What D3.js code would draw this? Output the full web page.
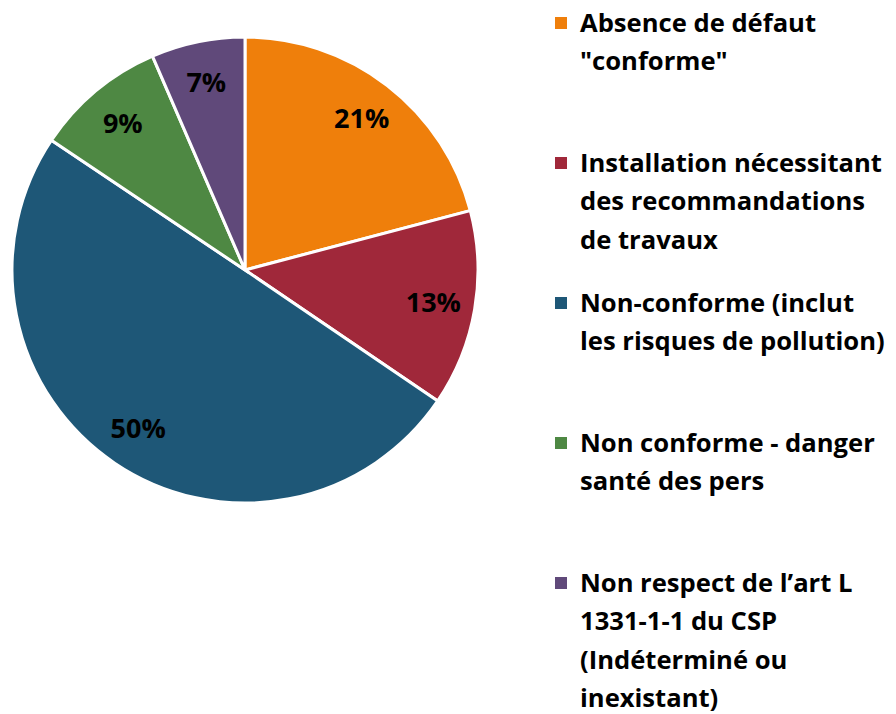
<!DOCTYPE html>
<html>
<head>
<meta charset="utf-8">
<script src="https://cdn.jsdelivr.net/npm/d3@7"></script>
<style>
  body { margin: 0; background: #fff; }
  #chart { width: 896px; height: 714px; }
  text { font-family: "Open Sans", Lato, sans-serif; font-weight: bold; fill: #000; }
</style>
</head>
<body>
<div id="chart"></div>
<script>
// Categories (legend text, one array of lines per entry)
var categories = [
    ["Absence de défaut", "\"conforme\""],
    ["Installation nécessitant", "des recommandations", "de travaux"],
    ["Non-conforme (inclut", "les risques de pollution)"],
    ["Non conforme - danger", "santé des pers"],
    ["Non respect de l\u2019art L", "1331-1-1 du CSP", "(Indéterminé ou", "inexistant)"]
];
// Share of each category, percent
var values = [20.9, 13.6, 49.9, 9.1, 6.5];
var labels = ["21%", "13%", "50%", "9%", "7%"];
var colors = ["#EF7F0B", "#A0283A", "#1E5777", "#4E8843", "#60497A"];

var width = 896, height = 714;
var svg = d3.select("#chart").append("svg")
    .attr("width", width)
    .attr("height", height);

// Pie
var cx = 245, cy = 270, radius = 233;
var pie = d3.pie().sort(null).value(function(d) { return d; });
var arc = d3.arc().innerRadius(0).outerRadius(radius);
var labelArc = d3.arc().innerRadius(radius * 0.82).outerRadius(radius * 0.82);

var pieGroup = svg.append("g")
    .attr("transform", "translate(" + cx + "," + cy + ")");

var slices = pieGroup.selectAll(".slice")
    .data(pie(values))
    .enter().append("g")
    .attr("class", "slice");

slices.append("path")
    .attr("d", arc)
    .attr("fill", function(d, i) { return colors[i]; })
    .attr("stroke", "#fff")
    .attr("stroke-width", 3);

slices.append("text")
    .attr("transform", function(d) { return "translate(" + labelArc.centroid(d) + ")"; })
    .attr("text-anchor", "middle")
    .attr("dy", "0.35em")
    .style("font-size", "27px")
    .text(function(d, i) { return labels[i]; });

// Legend
var legendX = 555, legendY = 23, entryStep = 140, lineStep = 38.5;
var legend = svg.append("g").attr("id", "legend");

var entries = legend.selectAll(".entry")
    .data(categories)
    .enter().append("g")
    .attr("class", "entry")
    .attr("transform", function(d, i) {
        return "translate(" + legendX + "," + (legendY + i * entryStep) + ")";
    });

entries.append("rect")
    .attr("x", 0)
    .attr("y", -6)
    .attr("width", 12)
    .attr("height", 12)
    .attr("fill", function(d, i) { return colors[i]; });

entries.each(function(lines) {
    var t = d3.select(this).append("text")
        .attr("x", 25)
        .attr("y", 0)
        .style("font-size", "25.6px");
    lines.forEach(function(line, j) {
        t.append("tspan")
            .attr("x", 25)
            .attr("y", j * lineStep)
            .attr("dy", "0.35em")
            .text(line);
    });
});
</script>
</body>
</html>
